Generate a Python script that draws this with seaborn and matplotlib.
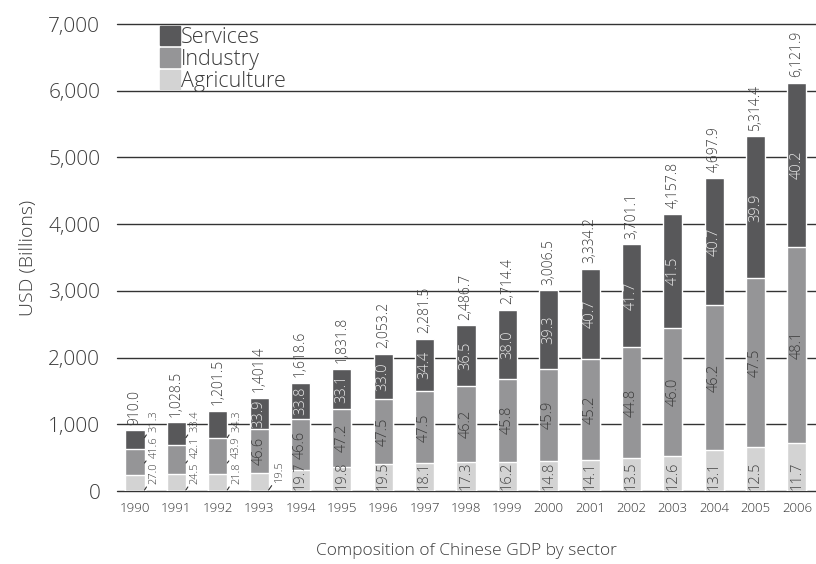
import numpy as np
import pandas as pd
import matplotlib
matplotlib.use("Agg")
import matplotlib.pyplot as plt
import seaborn as sns
from matplotlib.patches import Patch

# data
years = ["1990", "1991", "1992", "1993", "1994", "1995", "1996", "1997", "1998",
         "1999", "2000", "2001", "2002", "2003", "2004", "2005", "2006"]
totals = [910.0, 1028.5, 1201.5, 1401.4, 1618.6, 1831.8, 2053.2, 2281.5, 2486.7,
          2714.4, 3006.5, 3334.2, 3701.1, 4157.8, 4697.9, 5314.4, 6121.9]
agriculture = [27.0, 24.5, 21.8, 19.5, 19.7, 19.8, 19.5, 18.1, 17.3,
               16.2, 14.8, 14.1, 13.5, 12.6, 13.1, 12.5, 11.7]
industry = [41.6, 42.1, 43.9, 46.6, 46.6, 47.2, 47.5, 47.5, 46.2,
            45.8, 45.9, 45.2, 44.8, 46.0, 46.2, 47.5, 48.1]
services = [31.3, 33.4, 34.3, 33.9, 33.8, 33.1, 33.0, 34.4, 36.5,
            38.0, 39.3, 40.7, 41.7, 41.5, 40.7, 39.9, 40.2]
yticks = [0, 1000, 2000, 3000, 4000, 5000, 6000, 7000]

c_serv, c_ind, c_agr = "#58585a", "#959597", "#d3d3d3"
txt = "#3c3c3c"

sns.set_style("white")
plt.rcParams['font.family'] = ['Open Sans', 'DejaVu Sans']
plt.rcParams['font.weight'] = 'light'
plt.rcParams['axes.labelweight'] = 'light'

df = pd.DataFrame({"year": years, "total": totals, "agr": agriculture,
                   "ind": industry, "serv": services})
df["agr_v"] = df["total"] * df["agr"] / 100
df["ind_v"] = df["total"] * df["ind"] / 100
df["cum_ind"] = df["agr_v"] + df["ind_v"]

fig = plt.figure(figsize=(8.16, 5.64), dpi=100)
ax = fig.add_axes([0.1434, 0.1294, 0.8566, 0.828])

w = 0.46
sns.barplot(data=df, x="year", y="total", color=c_serv, saturation=1, width=w, ax=ax, zorder=3)
sns.barplot(data=df, x="year", y="cum_ind", color=c_ind, saturation=1, width=w, ax=ax, zorder=3)
sns.barplot(data=df, x="year", y="agr_v", color=c_agr, saturation=1, width=w, ax=ax, zorder=3)

ax.set_xlim(-0.435, 16.46)
ax.set_ylim(0, 7000)
ax.set_yticks(yticks)
ax.set_yticklabels([f"{v:,}" for v in yticks], fontsize=15, color=txt)
for v in yticks:
    ax.axhline(v, color="#333333", lw=1.0, zorder=1, clip_on=False)
sns.despine(ax=ax, left=True, bottom=True)
ax.tick_params(axis="y", length=8, width=1, color="#333333", pad=4)
ax.tick_params(axis="x", length=0, labelsize=9.5, colors="#333333", pad=8)
ax.set_ylabel("USD (Billions)", fontsize=14, color=txt, labelpad=8)
ax.set_xlabel("Composition of Chinese GDP by sector", fontsize=12.5, color=txt, labelpad=20)

for i, r in df.iterrows():
    # total on top
    ax.annotate(f"{r.total:,.1f}", (i, r.total), xytext=(0, 4), textcoords="offset points",
                rotation=90, ha="center", va="bottom", fontsize=10, color=txt)
    if i < 3:
        # labels outside, stacked with leader lines
        for k, (val, yb) in enumerate([(r.agr, 15), (r.ind, 420), (r.serv, 800)]):
            ys = 110 + k * 390
            ax.annotate(f"{val:.1f}", xy=(i + w / 2, yb), xytext=(i + 0.46, ys),
                        rotation=90, ha="center", va="bottom", fontsize=8, color=txt,
                        arrowprops=dict(arrowstyle="-", lw=0.8, color="#333333",
                                        shrinkA=0, shrinkB=0, relpos=(0, 0)))
        continue
    if i == 3:
        ax.annotate(f"{r.agr:.1f}", xy=(i + w / 2, 15), xytext=(i + 0.49, 130),
                    rotation=90, ha="center", va="bottom", fontsize=8, color=txt,
                    arrowprops=dict(arrowstyle="-", lw=0.8, color="#333333",
                                    shrinkA=0, shrinkB=0, relpos=(0, 0)))
    else:
        ax.annotate(f"{r.agr:.1f}", (i, 0), xytext=(0, 1), textcoords="offset points",
                    rotation=90, ha="center", va="bottom", fontsize=10.5, color="#444444", zorder=4)
    ax.text(i, r.agr_v + r.ind_v / 2, f"{r.ind:.1f}", rotation=90, ha="center", va="center",
            fontsize=10.5, color="#3a3a3a", zorder=4)
    ax.text(i, r.cum_ind + (r.total - r.cum_ind) / 2, f"{r.serv:.1f}", rotation=90,
            ha="center", va="center", fontsize=10.5, color="#e8e8e8", zorder=4)

handles = [Patch(color=c_serv, label="Services"), Patch(color=c_ind, label="Industry"),
           Patch(color=c_agr, label="Agriculture")]
leg = ax.legend(handles=handles, loc="upper left", bbox_to_anchor=(0.058, 1.0),
                frameon=False, fontsize=15.5, handlelength=0.92, handleheight=1.0,
                handletextpad=0.08, labelspacing=0.0, borderaxespad=0.1, borderpad=0)
for t in leg.get_texts():
    t.set_color(txt)

fig.savefig("out.png", dpi=100)
